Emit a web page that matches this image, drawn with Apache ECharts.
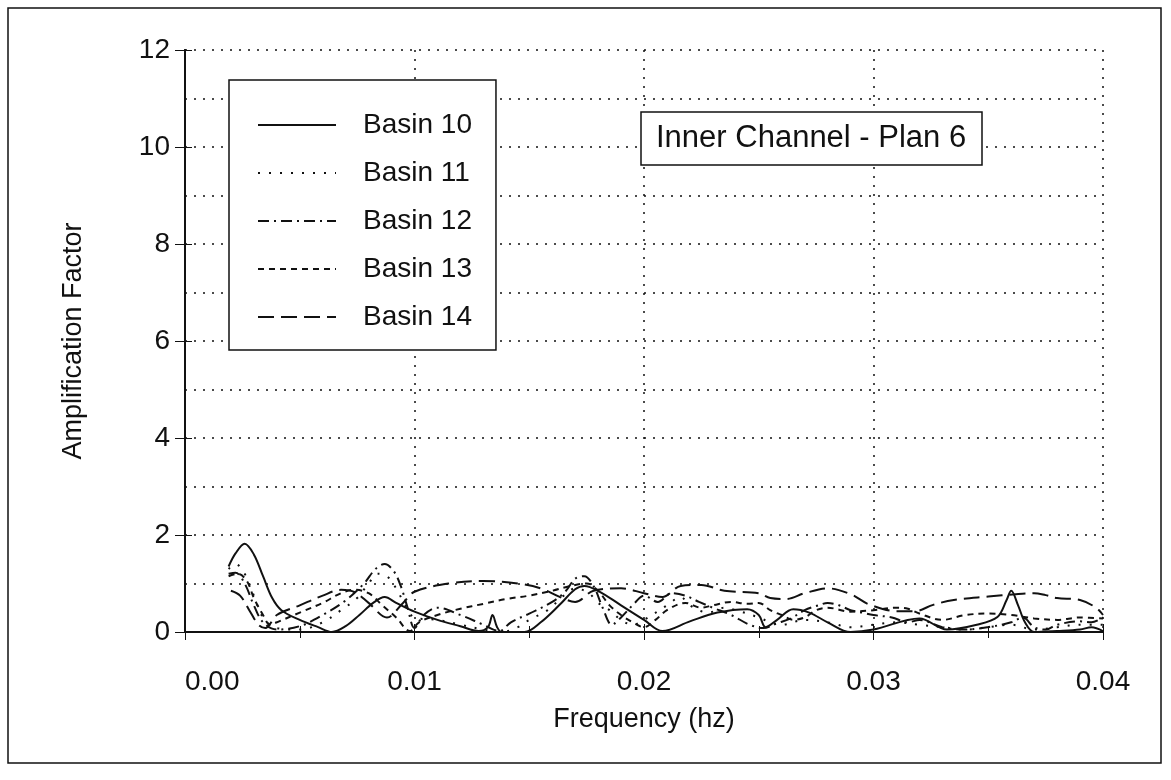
<!DOCTYPE html>
<html>
<head>
<meta charset="utf-8">
<title>Inner Channel - Plan 6</title>
<script src="https://cdn.jsdelivr.net/npm/echarts@6/dist/echarts.min.js"></script>
<style>
    html, body {
        margin: 0;
        padding: 0;
        background: #fff;
    }
    #chart {
        width: 1171px;
        height: 780px;
    }
</style>
</head>
<body>
<div id="chart"></div>
<script>
// 频率 (hz) 与放大系数, 每个点 [frequency, amplification]
const basin10 = [
    [0.0019, 1.35], [0.0022, 1.62], [0.0026, 1.82], [0.0030, 1.60], [0.0034, 1.15], [0.0038, 0.70],
    [0.0042, 0.45], [0.0050, 0.25], [0.0058, 0.10], [0.0064, 0.00], [0.0070, 0.12], [0.0076, 0.35],
    [0.0082, 0.60], [0.0087, 0.72], [0.0092, 0.60], [0.0100, 0.42], [0.0110, 0.25], [0.0120, 0.12],
    [0.0128, 0.02], [0.0132, 0.10], [0.0134, 0.35], [0.0136, 0.10], [0.0138, 0.00], [0.0148, 0.00],
    [0.0155, 0.20], [0.0163, 0.55], [0.0170, 0.88], [0.0174, 0.95], [0.0180, 0.85], [0.0190, 0.55],
    [0.0200, 0.25], [0.0208, 0.02], [0.0220, 0.22], [0.0232, 0.40], [0.0245, 0.47], [0.0250, 0.35],
    [0.0253, 0.10], [0.0258, 0.25], [0.0265, 0.47], [0.0272, 0.40], [0.0280, 0.20], [0.0290, 0.00],
    [0.0300, 0.05], [0.0320, 0.28], [0.0332, 0.05], [0.0345, 0.15], [0.0354, 0.31], [0.0358, 0.66],
    [0.0360, 0.85], [0.0363, 0.55], [0.0366, 0.20], [0.0370, 0.00], [0.0380, 0.02], [0.0390, 0.05],
    [0.0395, 0.10], [0.0400, 0.02]
]
const basin11 = [
    [0.0019, 1.30], [0.0022, 1.40], [0.0026, 1.20], [0.0030, 0.75], [0.0034, 0.30], [0.0040, 0.08],
    [0.0050, 0.05], [0.0060, 0.20], [0.0068, 0.45], [0.0075, 0.70], [0.0080, 1.00], [0.0084, 1.20],
    [0.0088, 1.15], [0.0092, 0.90], [0.0096, 0.55], [0.0100, 0.30], [0.0110, 0.25], [0.0120, 0.15],
    [0.0130, 0.05], [0.0138, 0.00], [0.0145, 0.10], [0.0150, 0.25], [0.0158, 0.45], [0.0165, 0.75],
    [0.0170, 0.90], [0.0176, 0.80], [0.0180, 0.60], [0.0185, 0.45], [0.0190, 0.25], [0.0195, 0.15],
    [0.0200, 0.25], [0.0210, 0.55], [0.0216, 0.72], [0.0220, 0.55], [0.0228, 0.40], [0.0235, 0.50],
    [0.0240, 0.45], [0.0250, 0.30], [0.0255, 0.20], [0.0260, 0.15], [0.0270, 0.25], [0.0280, 0.20],
    [0.0290, 0.10], [0.0300, 0.15], [0.0310, 0.20], [0.0320, 0.15], [0.0330, 0.10], [0.0340, 0.05],
    [0.0350, 0.10], [0.0360, 0.15], [0.0370, 0.05], [0.0380, 0.10], [0.0390, 0.15], [0.0400, 0.15]
]
const basin12 = [
    [0.0019, 1.20], [0.0022, 1.22], [0.0026, 1.00], [0.0030, 0.55], [0.0034, 0.20], [0.0040, 0.05],
    [0.0050, 0.12], [0.0060, 0.35], [0.0070, 0.65], [0.0078, 1.00], [0.0083, 1.30], [0.0087, 1.40],
    [0.0091, 1.25], [0.0094, 0.95], [0.0097, 0.50], [0.0100, 0.08], [0.0104, 0.35], [0.0110, 0.50],
    [0.0120, 0.35], [0.0130, 0.15], [0.0137, 0.02], [0.0142, 0.20], [0.0150, 0.38], [0.0160, 0.62],
    [0.0166, 0.85], [0.0170, 1.10], [0.0174, 1.15], [0.0178, 0.95], [0.0182, 0.50], [0.0186, 0.15],
    [0.0190, 0.30], [0.0196, 0.60], [0.0200, 0.75], [0.0206, 0.62], [0.0212, 0.80], [0.0218, 0.75],
    [0.0224, 0.62], [0.0230, 0.50], [0.0238, 0.35], [0.0246, 0.15], [0.0252, 0.08], [0.0258, 0.18],
    [0.0264, 0.28], [0.0270, 0.45], [0.0276, 0.55], [0.0280, 0.60], [0.0285, 0.55], [0.0290, 0.45],
    [0.0295, 0.40], [0.0300, 0.35], [0.0308, 0.30], [0.0315, 0.20], [0.0320, 0.25], [0.0330, 0.10],
    [0.0340, 0.05], [0.0350, 0.10], [0.0360, 0.20], [0.0365, 0.30], [0.0370, 0.10], [0.0375, 0.05],
    [0.0380, 0.15], [0.0390, 0.22], [0.0395, 0.20], [0.0400, 0.30]
]
const basin13 = [
    [0.0019, 1.15], [0.0023, 1.20], [0.0027, 1.05], [0.0030, 0.70], [0.0034, 0.35], [0.0037, 0.15],
    [0.0040, 0.20], [0.0050, 0.40], [0.0060, 0.60], [0.0068, 0.80], [0.0074, 0.87], [0.0080, 0.80],
    [0.0086, 0.55], [0.0092, 0.30], [0.0098, 0.02], [0.0102, 0.20], [0.0110, 0.35], [0.0120, 0.48],
    [0.0130, 0.58], [0.0140, 0.68], [0.0150, 0.75], [0.0160, 0.85], [0.0168, 0.95], [0.0175, 1.00],
    [0.0180, 0.85], [0.0185, 0.55], [0.0190, 0.35], [0.0195, 0.20], [0.0200, 0.10], [0.0205, 0.25],
    [0.0210, 0.45], [0.0218, 0.60], [0.0225, 0.50], [0.0230, 0.55], [0.0238, 0.62], [0.0245, 0.58],
    [0.0250, 0.60], [0.0255, 0.45], [0.0260, 0.35], [0.0265, 0.25], [0.0270, 0.30], [0.0275, 0.45],
    [0.0280, 0.50], [0.0290, 0.42], [0.0300, 0.45], [0.0310, 0.50], [0.0315, 0.48], [0.0320, 0.38],
    [0.0330, 0.25], [0.0340, 0.35], [0.0350, 0.38], [0.0360, 0.35], [0.0370, 0.28], [0.0380, 0.25],
    [0.0390, 0.30], [0.0400, 0.28]
]
const basin14 = [
    [0.0020, 0.85], [0.0024, 0.75], [0.0028, 0.45], [0.0032, 0.15], [0.0035, 0.08], [0.0040, 0.35],
    [0.0050, 0.55], [0.0060, 0.75], [0.0068, 0.87], [0.0074, 0.82], [0.0080, 0.60], [0.0088, 0.30],
    [0.0095, 0.60], [0.0100, 0.83], [0.0115, 1.00], [0.0130, 1.05], [0.0145, 1.00], [0.0155, 0.90],
    [0.0163, 0.73], [0.0170, 0.62], [0.0178, 0.85], [0.0190, 0.90], [0.0200, 0.80], [0.0208, 0.72],
    [0.0216, 0.95], [0.0225, 0.97], [0.0235, 0.85], [0.0250, 0.80], [0.0255, 0.70], [0.0262, 0.68],
    [0.0270, 0.80], [0.0280, 0.90], [0.0290, 0.78], [0.0298, 0.57], [0.0310, 0.43], [0.0318, 0.43],
    [0.0326, 0.56], [0.0335, 0.66], [0.0350, 0.73], [0.0362, 0.78], [0.0370, 0.80], [0.0375, 0.76],
    [0.0380, 0.70], [0.0390, 0.66], [0.0397, 0.50], [0.0400, 0.35]
]
const seriesNames = ['Basin 10', 'Basin 11', 'Basin 12', 'Basin 13', 'Basin 14']
const xTicks = [0, 0.01, 0.02, 0.03, 0.04]
const yTicks = [0, 2, 4, 6, 8, 10, 12]

const ink = '#111'
const fontFamily = 'Liberation Sans, Arial, sans-serif'
// 各系列线型: 实线, 点线, 点划线, 短划线, 长划线
const dashArr = ['solid', [2, 9], [11, 5, 2, 5], [6, 5], [16, 7]]
const allData = [basin10, basin11, basin12, basin13, basin14]

const chartInstance = echarts.init(document.getElementById('chart'))

const gridLine = {
    show: true,
    lineStyle: { color: ink, width: 1.5, type: [2, 7] }
}

const option = {
    animation: false,
    backgroundColor: '#fff',
    grid: { left: 185, right: 68, top: 50, bottom: 148 },
    title: {
        text: 'Inner Channel - Plan 6',
        left: 641,
        top: 112,
        padding: [11, 16, 11, 15],
        borderColor: ink,
        borderWidth: 1.5,
        backgroundColor: '#fff',
        textStyle: { color: ink, fontSize: 31, fontWeight: 'normal', fontFamily: fontFamily }
    },
    legend: {
        orient: 'vertical',
        left: 229,
        top: 80,
        padding: [30, 24, 18, 28],
        itemWidth: 78,
        itemHeight: 14,
        itemGap: 18,
        borderColor: ink,
        borderWidth: 1.5,
        backgroundColor: '#fff',
        data: seriesNames,
        // 图例只显示线型, 不显示圆点
        itemStyle: { opacity: 0 },
        textStyle: {
            color: ink,
            fontSize: 28,
            lineHeight: 30,
            fontFamily: fontFamily,
            padding: [0, 0, 0, 22]
        }
    },
    graphic: [
        {
            // 外边框
            type: 'rect',
            shape: { x: 8, y: 8, width: 1153, height: 755 },
            style: { fill: null, stroke: ink, lineWidth: 1.5 },
            silent: true
        }
    ],
    xAxis: [
        {
            type: 'value',
            min: xTicks[0],
            max: xTicks[xTicks.length - 1],
            interval: 0.01,
            name: 'Frequency (hz)',
            nameLocation: 'middle',
            nameGap: 74,
            nameTextStyle: { color: ink, fontSize: 27, fontFamily: fontFamily },
            axisLine: { lineStyle: { color: ink, width: 2 } },
            axisTick: { inside: true, length: 8, lineStyle: { color: ink } },
            minorTick: { show: true, splitNumber: 2, length: 6, lineStyle: { color: ink } },
            axisLabel: {
                color: ink,
                fontSize: 28,
                fontFamily: fontFamily,
                margin: 36,
                alignMinLabel: 'left',
                formatter: val => val.toFixed(2)
            },
            splitLine: gridLine
        },
        {
            type: 'value',
            position: 'top',
            min: xTicks[0],
            max: xTicks[xTicks.length - 1],
            interval: 0.01,
            axisLine: { show: true, lineStyle: { color: ink, width: 2 } },
            axisTick: { show: true, inside: true, length: 8, lineStyle: { color: ink } },
            minorTick: { show: true, splitNumber: 2, length: 6, lineStyle: { color: ink } },
            axisLabel: { show: false },
            splitLine: { show: false }
        }
    ],
    yAxis: [
        {
            type: 'value',
            min: yTicks[0],
            max: yTicks[yTicks.length - 1],
            interval: 2,
            name: 'Amplification Factor',
            nameLocation: 'middle',
            nameGap: 98,
            nameTextStyle: { color: ink, fontSize: 27, fontFamily: fontFamily },
            axisLine: { show: true, lineStyle: { color: ink, width: 2 } },
            axisTick: { show: true, inside: true, length: 7, lineStyle: { color: ink } },
            axisLabel: { color: ink, fontSize: 28, fontFamily: fontFamily, margin: 15 },
            splitLine: gridLine,
            minorSplitLine: gridLine,
            minorTick: { show: false, splitNumber: 2 }
        },
        {
            type: 'value',
            position: 'right',
            min: yTicks[0],
            max: yTicks[yTicks.length - 1],
            interval: 2,
            axisLine: { show: true, lineStyle: { color: ink, width: 2 } },
            axisTick: { show: true, inside: true, length: 10, lineStyle: { color: ink } },
            axisLabel: { show: false },
            splitLine: { show: false }
        }
    ],
    series: seriesNames.map((name, index) => {
        return {
            name: name,
            type: 'line',
            data: allData[index],
            xAxisIndex: 0,
            yAxisIndex: 0,
            symbol: 'none',
            smooth: 0.35,
            clip: true,
            lineStyle: { color: ink, width: 2, type: dashArr[index] },
            itemStyle: { color: ink }
        }
    })
}
chartInstance.setOption(option)
</script>
</body>
</html>
